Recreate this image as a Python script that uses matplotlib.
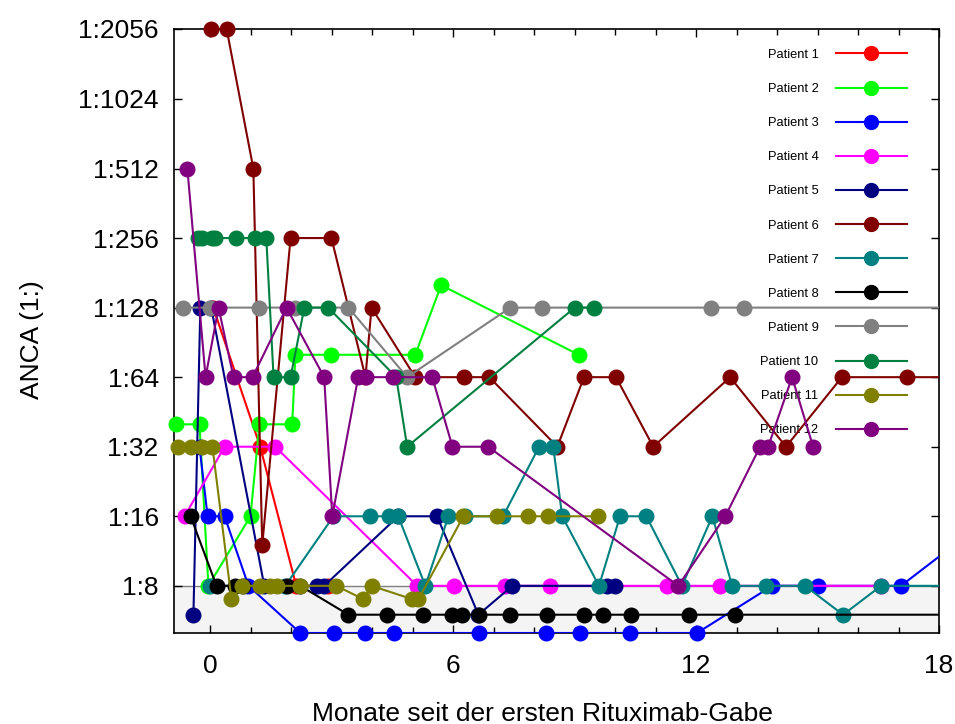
import numpy as np
import matplotlib
matplotlib.use("Agg")
import matplotlib.pyplot as plt
from matplotlib.lines import Line2D
from matplotlib.ticker import FixedLocator, MultipleLocator, NullLocator

plt.rcParams['font.family'] = ['Liberation Sans', 'DejaVu Sans']

# ANCA titres (as 1:x) per patient over months since the first rituximab dose.
# Values below 1:8 (5, 6, 7) mark negative results drawn inside the grey band.
patients = [f"Patient {i}" for i in range(1, 13)]
colors = ["#ff0000", "#00ff00", "#0000ff", "#ff00ff", "#000080", "#800000",
          "#008080", "#000000", "#808080", "#008040", "#808000", "#800080"]

months_p1 = [0.07, 1.23, 2.12, 2.91]
titre_p1 = [128, 32, 8, 8]

months_p2 = [-0.86, -0.27, -0.05, 0.99, 1.21, 2.02, 2.10, 2.99, 5.06, 5.70, 9.10]
titre_p2 = [40, 40, 8, 16, 40, 40, 80, 80, 80, 160, 80]

months_p3 = [-0.27, -0.07, 0.35, 0.94, 2.22, 3.06, 3.83, 4.54, 6.64, 8.30, 9.14,
             10.37, 12.02, 13.88, 15.01, 17.06, 19.3]
titre_p3 = [32, 16, 16, 8, 5, 5, 5, 5, 5, 5, 5, 5, 5, 8, 8, 8, 16]

months_p4 = [-0.64, 0.35, 1.60, 5.11, 6.02, 7.28, 8.40, 11.28, 12.60, 16.57]
titre_p4 = [16, 32, 32, 8, 8, 8, 8, 8, 8, 8]

months_p5 = [-0.42, -0.25, 0.02, 1.33, 2.64, 2.81, 4.64, 5.60, 6.62, 7.46, 9.80, 10.00]
titre_p5 = [6, 128, 128, 8, 8, 8, 16, 16, 6, 8, 8, 8]

months_p6 = [0.02, 0.40, 1.06, 1.28, 1.98, 2.99, 3.83, 3.98, 5.06, 6.27, 6.89,
             8.57, 9.23, 10.02, 10.94, 12.84, 14.22, 15.60, 17.21, 20.0]
titre_p6 = [2056, 2056, 512, 12, 256, 256, 64, 128, 64, 64, 64,
            32, 64, 64, 32, 64, 32, 64, 64, 64]

months_p7 = [0.0, 1.85, 3.04, 3.95, 4.40, 4.64, 5.31, 5.88, 6.30, 7.23, 8.12, 8.47,
             8.69, 9.60, 10.12, 10.77, 11.65, 12.40, 12.89, 13.73, 14.69, 15.63,
             16.57, 20.0]
titre_p7 = [8, 8, 16, 16, 16, 16, 8, 16, 16, 16, 32, 32,
            16, 8, 16, 16, 8, 16, 8, 8, 8, 6, 8, 8]

months_p8 = [-0.49, 0.15, 0.60, 0.80, 1.90, 2.22, 3.41, 4.35, 5.26, 5.98, 6.22,
             6.64, 7.41, 8.32, 9.23, 9.70, 10.40, 11.83, 12.96, 20.0]
titre_p8 = [16, 8, 8, 8, 8, 8, 6, 6, 6, 6, 6, 6, 6, 6, 6, 6, 6, 6, 6, 6]

months_p9 = [-0.67, 0.0, 1.21, 2.10, 3.41, 4.86, 7.41, 8.20, 12.37, 13.19, 20.0]
titre_p9 = [128, 128, 128, 128, 128, 64, 128, 128, 128, 128, 128]

months_p10 = [-0.30, -0.20, 0.05, 0.12, 0.62, 1.11, 1.38, 1.56, 1.98, 2.32, 2.91,
              4.59, 4.86, 9.00, 9.48]
titre_p10 = [256, 256, 256, 256, 256, 256, 256, 64, 64, 128, 128, 64, 32, 128, 128]

months_p11 = [-0.79, -0.49, -0.20, 0.05, 0.52, 0.79, 1.23, 1.48, 1.65, 2.22, 3.11,
              3.78, 3.98, 4.99, 5.14, 6.25, 7.09, 7.85, 8.35, 9.58]
titre_p11 = [32, 32, 32, 32, 7, 8, 8, 8, 8, 8, 8, 7, 8, 7, 7, 16, 16, 16, 16, 16]

months_p12 = [-0.57, -0.12, 0.20, 0.57, 1.04, 1.88, 2.81, 3.01, 3.65, 3.85, 4.52,
              5.48, 5.98, 6.86, 11.56, 12.72, 13.58, 13.78, 14.37, 14.89]
titre_p12 = [512, 64, 128, 64, 64, 128, 64, 16, 64, 64, 64,
             64, 32, 32, 8, 16, 32, 32, 64, 32]

months = [months_p1, months_p2, months_p3, months_p4, months_p5, months_p6,
          months_p7, months_p8, months_p9, months_p10, months_p11, months_p12]
titres = [titre_p1, titre_p2, titre_p3, titre_p4, titre_p5, titre_p6,
          titre_p7, titre_p8, titre_p9, titre_p10, titre_p11, titre_p12]

ytick_values = [8, 16, 32, 64, 128, 256, 512, 1024, 2056]
ytick_labels = ["1:8", "1:16", "1:32", "1:64", "1:128", "1:256", "1:512", "1:1024", "1:2056"]
xtick_values = [0, 6, 12, 18]

W, H = 955, 724
fig = plt.figure(figsize=(W / 100, H / 100), dpi=100)
ax = fig.add_axes([174 / W, 1 - 633 / H, 765 / W, 604 / H])

xmin, xmax = -0.9, 18.0
ax.set_xlim(xmin, xmax)
ax.set_yscale('log', base=2)
ax.set_ylim(5, 2056)

# negative range (below 1:8)
ax.axhspan(5, 8, facecolor='#f4f4f4', edgecolor='none', zorder=0)
ax.axhline(8, color='#808080', lw=1.0, zorder=0.5)

handles = []
for i, (name, col, xs, ys) in enumerate(zip(patients, colors, months, titres)):
    xs = np.asarray(xs, dtype=float)
    ys = np.asarray(ys, dtype=float)
    z = 3 + i
    ax.plot(xs, ys, color=col, lw=1.5, zorder=z, solid_joinstyle='round')
    inside = (xs >= xmin) & (xs <= xmax)
    ax.plot(xs[inside], ys[inside], ls='none', marker='o', ms=10.5,
            color=col, mec=col, zorder=z, clip_on=False)
    handles.append(Line2D([], [], color=col, lw=1.5, marker='o', ms=10))

leg = ax.legend(handles, patients, loc='upper right', bbox_to_anchor=(0.958, 0.967),
                frameon=False, markerfirst=False, handlelength=5.5, handletextpad=1.35,
                labelspacing=1.71, borderpad=0, borderaxespad=0, fontsize=9.3,
                numpoints=1)
leg.set_zorder(2.5)

ax.xaxis.set_major_locator(FixedLocator(xtick_values))
ax.xaxis.set_minor_locator(MultipleLocator(1))
ax.yaxis.set_major_locator(FixedLocator(ytick_values))
ax.yaxis.set_minor_locator(NullLocator())
ax.set_yticklabels(ytick_labels)
ax.set_xticklabels([str(v) for v in xtick_values])

ax.tick_params(which='both', direction='in', top=True, right=True, width=1.0)
ax.tick_params(which='major', length=6)
ax.tick_params(which='minor', length=4)
ax.tick_params(axis='x', which='major', labelsize=19, pad=15)
ax.tick_params(axis='y', which='major', labelsize=19, pad=11)

for s in ax.spines.values():
    s.set_linewidth(1.2)

ax.set_xlabel("Monate seit der ersten Rituximab-Gabe", fontsize=19)
ax.xaxis.set_label_coords(0.482, -0.114)
ax.set_ylabel("ANCA (1:)", fontsize=19)
ax.yaxis.set_label_coords(-0.17, 0.485)

fig.savefig("out.png", dpi=100)
